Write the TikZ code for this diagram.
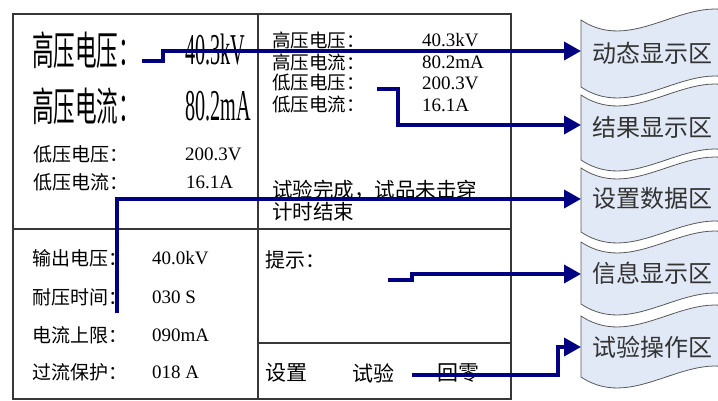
\documentclass[tikz,border=0pt]{standalone}
\usepackage{fontspec}
\setmainfont{Liberation Serif}
\newfontfamily\cjk{Noto Sans CJK SC}
\usetikzlibrary{arrows.meta}
\definecolor{linkblue}{RGB}{0,0,128}
\definecolor{zonefill}{RGB}{226,233,246}
\definecolor{framegray}{RGB}{55,55,55}

\begin{document}
\begin{tikzpicture}[x=1pt,y=-1pt,
    frame/.style={draw=framegray,line width=1.3pt},
    bigcn/.style={anchor=west,inner sep=0pt,xscale=0.54,font=\cjk\fontsize{40}{44}\selectfont},
    bignum/.style={anchor=west,inner sep=0pt,xscale=0.46,font=\fontsize{44}{48}\selectfont},
    cn/.style={anchor=west,inner sep=0pt,font=\cjk\fontsize{#1}{#1}\selectfont},
    cn/.default=19,
    num/.style={anchor=west,inner sep=0pt,font=\fontsize{#1}{#1}\selectfont},
    num/.default=19,
    zone/.style={draw=black!65,line width=0.8pt,fill=zonefill},
    zonetxt/.style={anchor=west,inner sep=0pt,text=black!80,font=\cjk\fontsize{24}{24}\selectfont},
    link/.style={draw=linkblue,line width=3.5pt,-{Triangle[length=17pt,width=18pt]}}]
    \useasboundingbox (0,0) rectangle (718,401);

    % panel frames
    \draw[frame] (13,14) rectangle (511,399);
    \draw[frame] (258,14) -- (258,399);
    \draw[frame] (13,229) -- (511,229);
    \draw[frame] (258,343) -- (511,343);

    % dynamic readings
    \node[bigcn] (hvlabel) at (32,50) {高压电压：};
    \node[bignum] (hvvalue) at (185,50) {40.3kV};
    \node[bigcn] (hclabel) at (32,106) {高压电流：};
    \node[bignum] (hcvalue) at (185,106) {80.2mA};
    \node[cn] (lvlabel) at (33,154) {低压电压：};
    \node[num] (lvvalue) at (185,154) {200.3V};
    \node[cn] (lclabel) at (33,182) {低压电流：};
    \node[num] (lcvalue) at (186,182) {16.1A};

    % test result
    \node[cn=18.5] (rhvlabel) at (272,40) {高压电压：};
    \node[num=19] (rhvvalue) at (422,40) {40.3kV};
    \node[cn=18.5] (rhclabel) at (272,62) {高压电流：};
    \node[num=19] (rhcvalue) at (422,62) {80.2mA};
    \node[cn=18.5] (rlvlabel) at (272,83) {低压电压：};
    \node[num=19] (rlvvalue) at (422,83) {200.3V};
    \node[cn=18.5] (rlclabel) at (272,105) {低压电流：};
    \node[num=19] (rlcvalue) at (422,105) {16.1A};
    \node[cn=20.5] (status) at (272,190) {试验完成，试品未击穿};
    \node[cn=20.5] (timer) at (272,212) {计时结束};

    % settings
    \node[cn] (outlabel) at (32,258) {输出电压：};
    \node[num] (outvalue) at (152,258) {40.0kV};
    \node[cn] (timelabel) at (32,297) {耐压时间：};
    \node[num] (timevalue) at (152,297) {030 S};
    \node[cn] (limlabel) at (32,335) {电流上限：};
    \node[num] (limvalue) at (152,335) {090mA};
    \node[cn] (protlabel) at (32,372) {过流保护：};
    \node[num] (protvalue) at (152,372) {018 A};

    % hint and buttons
    \node[cn=20] (hint) at (265,260) {提示：};
    \node[cn=21] (setbtn) at (265,373) {设置};
    \node[cn=21] (testbtn) at (352,373) {试验};
    \node[cn=21] (zerobtn) at (437,373) {回零};

    % zone tapes
    \draw[zone] (581,87) -- (581,20) .. controls (638,58) and (694,-18) .. (751,20) -- (751,87) .. controls (694,49) and (638,125) .. (581,87) -- cycle;
    \draw[zone] (581,160) -- (581,95) .. controls (638,133) and (694,57) .. (751,95) -- (751,160) .. controls (694,122) and (638,198) .. (581,160) -- cycle;
    \draw[zone] (581,232) -- (581,168) .. controls (638,206) and (694,130) .. (751,168) -- (751,232) .. controls (694,194) and (638,270) .. (581,232) -- cycle;
    \draw[zone] (581,304) -- (581,242) .. controls (638,280) and (694,204) .. (751,242) -- (751,304) .. controls (694,266) and (638,342) .. (581,304) -- cycle;
    \draw[zone] (581,377) -- (581,316) .. controls (638,354) and (694,278) .. (751,316) -- (751,377) .. controls (694,339) and (638,415) .. (581,377) -- cycle;

    \node[zonetxt] (zone1) at (592,53) {动态显示区};
    \node[zonetxt] (zone2) at (592,127) {结果显示区};
    \node[zonetxt] (zone3) at (592,198) {设置数据区};
    \node[zonetxt] (zone4) at (592,273) {信息显示区};
    \node[zonetxt] (zone5) at (592,347) {试验操作区};

    \coordinate (t1) at (581,51);
    \coordinate (t2) at (581,125);
    \coordinate (t3) at (581,199);
    \coordinate (t4) at (581,274);
    \coordinate (t5) at (581,347);

    % connectors
    \coordinate (s1) at (142,61);
    \coordinate (s2) at (377,89);
    \coordinate (s3) at (117,313);
    \coordinate (s4) at (388,280);
    \coordinate (s5) at (412,375);
    \draw[link] (s1) -- ++(21,0) |- (t1);
    \draw[link] (s2) -- ++(21,0) |- (t2);
    \draw[link] (s3) |- (t3);
    \draw[link] (s4) -- ++(24,0) |- (t4);
    \draw[link] (s5) -- ++(146,0) |- (t5);
\end{tikzpicture}
\end{document}
